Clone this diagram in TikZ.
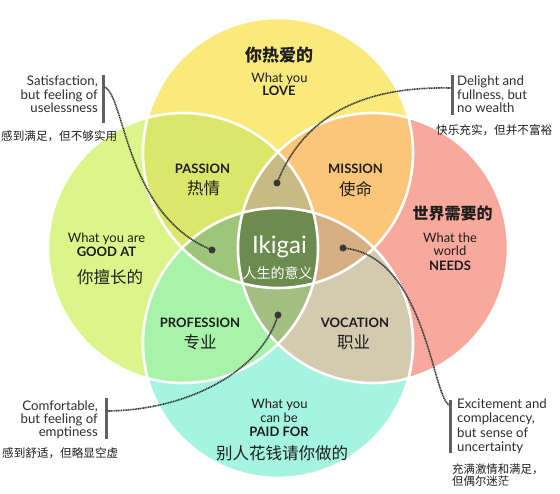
\documentclass[tikz,border=0pt]{standalone}
\usepackage{fontspec}
\setmainfont{Lato}
\newfontfamily\cjk{Noto Sans CJK SC}
\definecolor{colT}{HTML}{FAEA7C}
\definecolor{colL}{HTML}{DBF58B}
\definecolor{colR}{HTML}{F8A99C}
\definecolor{colB}{HTML}{A4F4DF}
\definecolor{colTL}{HTML}{DAE76A}
\definecolor{colTR}{HTML}{FBC677}
\definecolor{colLB}{HTML}{A8F2AA}
\definecolor{colRB}{HTML}{D3CAAF}
\definecolor{colTLR}{HTML}{C8BA84}
\definecolor{colTLB}{HTML}{9EC67B}
\definecolor{colTRB}{HTML}{D5AE83}
\definecolor{colLRB}{HTML}{A2BE80}
\definecolor{colAll}{HTML}{6B8B4F}
\definecolor{ink}{HTML}{1E1E1E}
\definecolor{noteink}{HTML}{2E2E2E}
\begin{document}
\begin{tikzpicture}[x=1pt,y=-1pt]
\tikzset{
  en/.style={font=\fontsize{13}{15}\selectfont, inner sep=0pt, text=ink, anchor=base},
  enb/.style={font=\fontsize{13}{15}\selectfont\bfseries, inner sep=0pt, text=ink, anchor=base},
  zh/.style={font=\cjk\fontsize{16.5}{18}\selectfont, inner sep=0pt, text=ink},
  zht/.style={font=\cjk\bfseries\fontsize{17}{19}\selectfont, inner sep=0pt, text=ink},
  note/.style={font=\fontsize{13.2}{15}\selectfont, inner sep=0pt, text=noteink},
  notezh/.style={font=\cjk\fontsize{11.6}{13}\selectfont, inner sep=0pt, text=ink, anchor=west},
  bar/.style={line width=3pt, draw=black!62},
  link/.style={line width=1.6pt, draw=black!78, dash pattern=on 1.1pt off 0.6pt},
  pin/.style={circle, fill=black!78, minimum size=7pt, inner sep=0pt},
  rim/.style={draw=white, line width=2.6pt},
}
\def\rad{135pt}
% canvas
\fill[white] (0,0) rectangle (560,494);
\useasboundingbox (0,0) rectangle (560,494);
% circle centres
\coordinate (cT) at (278,153);
\coordinate (cL) at (183,248);
\coordinate (cR) at (373,248);
\coordinate (cB) at (278,343);
% single circles
\fill[colT] (cT) circle[radius=\rad];
\fill[colL] (cL) circle[radius=\rad];
\fill[colR] (cR) circle[radius=\rad];
\fill[colB] (cB) circle[radius=\rad];
% pairs
\begin{scope}
  \clip (cT) circle[radius=\rad];
  \fill[colTL] (cL) circle[radius=\rad];
  \fill[colTR] (cR) circle[radius=\rad];
\end{scope}
\begin{scope}
  \clip (cB) circle[radius=\rad];
  \fill[colLB] (cL) circle[radius=\rad];
  \fill[colRB] (cR) circle[radius=\rad];
\end{scope}
% triples
\begin{scope}
  \clip (cT) circle[radius=\rad];
  \clip (cL) circle[radius=\rad];
  \fill[colTLR] (cR) circle[radius=\rad];
  \fill[colTLB] (cB) circle[radius=\rad];
\end{scope}
\begin{scope}
  \clip (cR) circle[radius=\rad];
  \clip (cB) circle[radius=\rad];
  \fill[colTRB] (cT) circle[radius=\rad];
  \fill[colLRB] (cL) circle[radius=\rad];
\end{scope}
% all four
\begin{scope}
  \clip (cT) circle[radius=\rad];
  \clip (cL) circle[radius=\rad];
  \clip (cR) circle[radius=\rad];
  \fill[colAll] (cB) circle[radius=\rad];
\end{scope}
% white rims
\draw[rim] (cT) circle[radius=\rad];
\draw[rim] (cL) circle[radius=\rad];
\draw[rim] (cR) circle[radius=\rad];
\draw[rim] (cB) circle[radius=\rad];

% circle labels
\node[zht] (love0) at (279,55) {你热爱的};
\node[en] (love1) at (279.5,83) {What you};
\node[enb] (love2) at (279,96) {LOVE};

\node[en] (good1) at (106.5,243) {What you are};
\node[enb] (good2) at (106.5,257) {GOOD AT};
\node[zh] (good0) at (110,277) {你擅长的};

\node[zht, font=\cjk\bfseries\fontsize{16}{18}\selectfont] (need0) at (452.5,213.5) {世界需要的};
\node[en] (need1) at (450,243) {What the};
\node[en] (need2) at (450,256) {world};
\node[enb] (need3) at (450,271) {NEEDS};

\node[en] (paid1) at (279.5,409) {What you};
\node[en] (paid2) at (279,423) {can be};
\node[enb] (paid3) at (279,437) {PAID FOR};
\node[zh] (paid0) at (282,453) {别人花钱请你做的};

% pair labels
\node[enb] (pas1) at (202.5,174) {PASSION};
\node[zh] (pas0) at (203.5,188.5) {热情};
\node[enb] (mis1) at (355.5,174) {MISSION};
\node[zh] (mis0) at (355.5,189) {使命};
\node[enb] (pro1) at (200,328) {PROFESSION};
\node[zh] (pro0) at (200,342) {专业};
\node[enb] (voc1) at (355,328) {VOCATION};
\node[zh] (voc0) at (353.5,342) {职业};

% centre
\node[font=\fontsize{24}{26}\selectfont, text=white, inner sep=0pt, anchor=base] (iki) at (279.5,254) {Ikigai};
\node[font=\cjk\fontsize{14}{16}\selectfont, text=white, inner sep=0pt] (ikizh) at (277.5,273.5) {人生的意义};

% annotation: top left
\coordinate (tlTop) at (103,75);
\coordinate (tlBot) at (103,123);
\draw[bar] (tlTop) -- (tlBot);
\node[note, anchor=base east] (tl1) at (98,86) {Satisfaction,};
\node[note, anchor=base east] (tl2) at (98,99.5) {but feeling of};
\node[note, anchor=base east] (tl3) at (98,113) {uselessness};
\node[notezh] (tl4) at (1,136) {感到满足，但不够实用};

% annotation: top right
\coordinate (trTop) at (452,75);
\coordinate (trBot) at (452,115);
\draw[bar] (trTop) -- (trBot);
\node[note, anchor=base west] (tr1) at (457,86) {Delight and};
\node[note, anchor=base west] (tr2) at (457,99.5) {fullness, but};
\node[note, anchor=base west] (tr3) at (457,113) {no wealth};
\node[notezh] (tr4) at (436,130) {快乐充实，但并不富裕};

% annotation: bottom left
\coordinate (blTop) at (106,398);
\coordinate (blBot) at (106,439);
\draw[bar] (blTop) -- (blBot);
\node[note, anchor=base east] (bl1) at (98,410) {Comfortable,};
\node[note, anchor=base east] (bl2) at (98,423.5) {but feeling of};
\node[note, anchor=base east] (bl3) at (98,437) {emptiness};
\node[notezh] (bl4) at (2,453) {感到舒适，但略显空虚};

% annotation: bottom right
\coordinate (brTop) at (450,400);
\coordinate (brBot) at (450,453);
\draw[bar] (brTop) -- (brBot);
\node[note, anchor=base west] (br1) at (457,409) {Excitement and};
\node[note, anchor=base west] (br2) at (457,423) {complacency,};
\node[note, anchor=base west] (br3) at (457,437.5) {but sense of};
\node[note, anchor=base west] (br4) at (457,452) {uncertainty};
\node[notezh, font=\cjk\fontsize{11.4}{12}\selectfont] (br5) at (452,469) {充满激情和满足，};
\node[notezh, font=\cjk\fontsize{11.4}{12}\selectfont] (br6) at (452,481.5) {但偶尔迷茫};

% connectors
\coordinate (tlS) at (104.5,87);
\coordinate (trS) at (450.5,88);
\coordinate (blS) at (107.5,411);
\coordinate (brS) at (449,405);
\coordinate (tlE) at (212,250);
\coordinate (trE) at (277,183);
\coordinate (blE) at (278,315);
\coordinate (brE) at (343,248);
\draw[link] (tlS) .. controls (125,95) and (125,215) .. (tlE);
\draw[link] (trS) .. controls (350,86) and (300,125) .. (trE);
\draw[link] (blS) .. controls (190,410) and (262,370) .. (blE);
\draw[link] (brE) .. controls (425,255) and (432,395) .. (brS);
\node[pin] (tlP) at (tlE) {};
\node[pin] (trP) at (trE) {};
\node[pin] (blP) at (blE) {};
\node[pin] (brP) at (brE) {};
\end{tikzpicture}
\end{document}
